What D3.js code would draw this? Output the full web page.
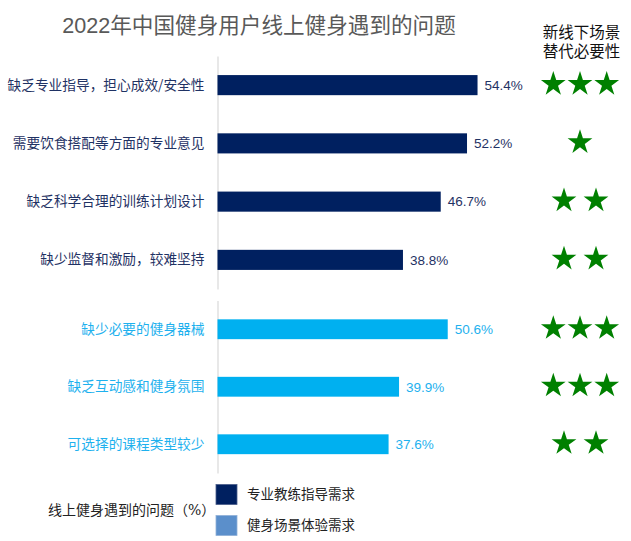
<!DOCTYPE html>
<html>
<head>
<meta charset="utf-8">
<script src="https://cdn.jsdelivr.net/npm/d3@7"></script>
<style>
  body { margin: 0; background: #fff; }
  text { font-family: "Liberation Sans", Arial, "Noto Sans CJK SC", sans-serif; }
  .serif { font-family: "DejaVu Serif", "Noto Sans CJK SC", serif; }
</style>
</head>
<body>
<div id="chart"></div>
<script>
// group 1: 专业教练指导需求
const coachCats = ["缺乏专业指导，担心成效/安全性", "需要饮食搭配等方面的专业意见", "缺乏科学合理的训练计划设计", "缺少监督和激励，较难坚持"];
const coachValues = [54.4, 52.2, 46.7, 38.8];
const coachStars = [3, 1, 2, 2];

// group 2: 健身场景体验需求
const sceneCats = ["缺少必要的健身器械", "缺乏互动感和健身氛围", "可选择的课程类型较少"];
const sceneValues = [50.6, 39.9, 37.6];
const sceneStars = [3, 3, 2];

const legendLabels = ["专业教练指导需求", "健身场景体验需求"];

const width = 631, height = 541;
const x0 = 217.5;

const svg = d3.select("#chart")
    .append("svg")
    .attr("width", width)
    .attr("height", height);

svg.append("text")
    .attr("x", 259)
    .attr("y", 33)
    .attr("text-anchor", "middle")
    .attr("font-size", "21.6px")
    .attr("fill", "#595959")
    .text("2022年中国健身用户线上健身遇到的问题");

svg.append("text")
    .attr("class", "serif")
    .attr("x", 581.5)
    .attr("y", 38)
    .attr("text-anchor", "middle")
    .attr("font-size", "15.5px")
    .attr("fill", "#111")
    .text("新线下场景");
svg.append("text")
    .attr("class", "serif")
    .attr("x", 581.5)
    .attr("y", 57)
    .attr("text-anchor", "middle")
    .attr("font-size", "15.5px")
    .attr("fill", "#111")
    .text("替代必要性");

const star = d3.symbol().type(d3.symbolStar).size(190);

function drawGroup(cats, values, stars, yRange, xMax, barColor, textColor) {
    const xScale = d3.scaleLinear()
        .domain([0, 100])
        .range([0, xMax]);

    const yScale = d3.scaleBand()
        .domain(cats)
        .range(yRange)
        .paddingInner(0.655)
        .paddingOuter(0.3275);

    const g = svg.append("g");

    // axis with category labels
    const axis = g.append("g")
        .attr("transform", `translate(${x0},0)`)
        .call(d3.axisLeft(yScale).tickSize(0).tickSizeOuter(0).tickPadding(13));
    axis.select(".domain").attr("stroke", "#d9d9d9").attr("stroke-width", 1.2);
    axis.selectAll("text")
        .attr("font-size", "13.7px")
        .attr("fill", textColor)
        .style("font-family", "'Noto Sans CJK SC', sans-serif");

    g.selectAll(".bar")
        .data(values)
        .enter()
        .append("rect")
        .attr("x", x0)
        .attr("y", (d, i) => yScale(cats[i]))
        .attr("height", yScale.bandwidth())
        .attr("width", d => xScale(d))
        .attr("fill", barColor);

    g.selectAll(".val")
        .data(values)
        .enter()
        .append("text")
        .attr("x", d => x0 + xScale(d) + 7)
        .attr("y", (d, i) => yScale(cats[i]) + yScale.bandwidth() / 2)
        .attr("dy", "0.36em")
        .attr("font-size", "13.5px")
        .attr("fill", textColor)
        .text(d => d.toFixed(1) + "%");

    // stars
    stars.forEach(function (n, i) {
        const gap = n === 3 ? 26.7 : 32;
        const cy = yScale(cats[i]) + yScale.bandwidth() / 2 - 1;
        d3.range(n).forEach(function (k) {
            g.append("path")
                .attr("d", star)
                .attr("transform", `translate(${580 + (k - (n - 1) / 2) * gap},${cy})`)
                .attr("fill", "#008000");
        });
    });
}

drawGroup(coachCats, coachValues, coachStars, [56, 289], 478, "#002060", "#1f3264");
drawGroup(sceneCats, sceneValues, sceneStars, [300.5, 473], 455, "#00b0f0", "#1eb1ee");

// legend
svg.append("text")
    .attr("class", "serif")
    .attr("x", 48)
    .attr("y", 510)
    .attr("dy", "0.35em")
    .attr("font-size", "14px")
    .attr("fill", "#222")
    .text("线上健身遇到的问题（%）");

const legendColors = ["#002060", "#5b8fcb"];
legendLabels.forEach(function (label, i) {
    const ly = 484.5 + i * 31;
    svg.append("rect")
        .attr("x", 216)
        .attr("y", ly)
        .attr("width", 21)
        .attr("height", 20)
        .attr("fill", legendColors[i])
        .attr("stroke", i === 0 ? "#4a5d8a" : "#8fb0d8")
        .attr("stroke-width", 0.8);
    svg.append("text")
        .attr("class", "serif")
        .attr("x", 247)
        .attr("y", ly + 10)
        .attr("dy", "0.35em")
        .attr("font-size", "13.5px")
        .attr("fill", "#222")
        .text(label);
});
</script>
</body>
</html>
